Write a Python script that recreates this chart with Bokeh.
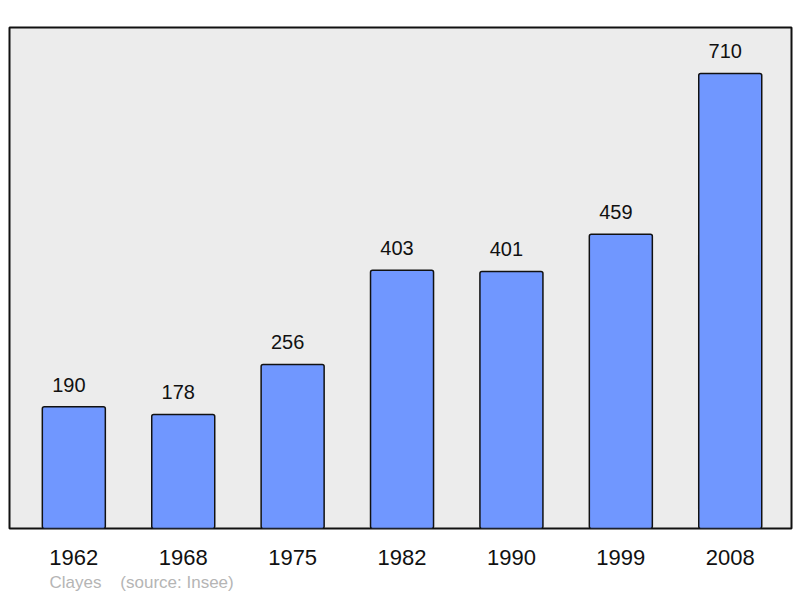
from bokeh.plotting import figure
from bokeh.models import Range1d, FixedTicker, Title, ColumnDataSource
from bokeh.embed import file_html
from bokeh.resources import INLINE

years = ["1962", "1968", "1975", "1982", "1990", "1999", "2008"]
population = [190, 178, 256, 403, 401, 459, 710]
footer_place = "Clayes"
footer_source = "(source: Insee)"

idx = list(range(len(years)))
src = ColumnDataSource(dict(x=idx, y=population, lab=[str(v) for v in population]))

p = figure(width=793, height=594, output_backend="svg", toolbar_location=None,
           x_range=Range1d(-0.588, 6.56), y_range=Range1d(0, 781.6),
           min_border_left=9, min_border_right=2, min_border_top=27, min_border_bottom=66)
p.background_fill_color = "#ececec"
p.border_fill_color = "white"
p.outline_line_color = "#111111"
p.outline_line_width = 2
p.grid.visible = False
p.yaxis.visible = False

p.vbar(x="x", top="y", bottom=0, width=0.576, source=src,
       fill_color="#7097ff", line_color="#111111", line_width=1.5, border_radius=2)
p.text(x="x", y="y", text="lab", source=src, text_align="center", text_baseline="alphabetic",
       x_offset=-5, y_offset=-22, text_font_size="20px", text_color="#111111",
       text_font={"value": "Liberation Sans"})

ax = p.xaxis[0]
ax.ticker = FixedTicker(ticks=idx)
ax.major_label_overrides = {i: y for i, y in zip(idx, years)}
ax.axis_line_color = None
ax.major_tick_line_color = None
ax.minor_tick_line_color = None
ax.major_tick_out = 0
ax.major_label_standoff = 21
ax.major_label_text_font_size = "22px"
ax.major_label_text_font = "Liberation Sans"
ax.major_label_text_color = "#111111"

t = Title(text=footer_place + "\u00a0\u00a0\u00a0\u00a0" + footer_source, align="left",
          offset=40, text_font_size="17px", text_font="Liberation Sans",
          text_font_style="normal", text_color="#b5b5b5", standoff=6)
p.add_layout(t, "below")

open("out.html", "w").write(file_html(p, INLINE))
